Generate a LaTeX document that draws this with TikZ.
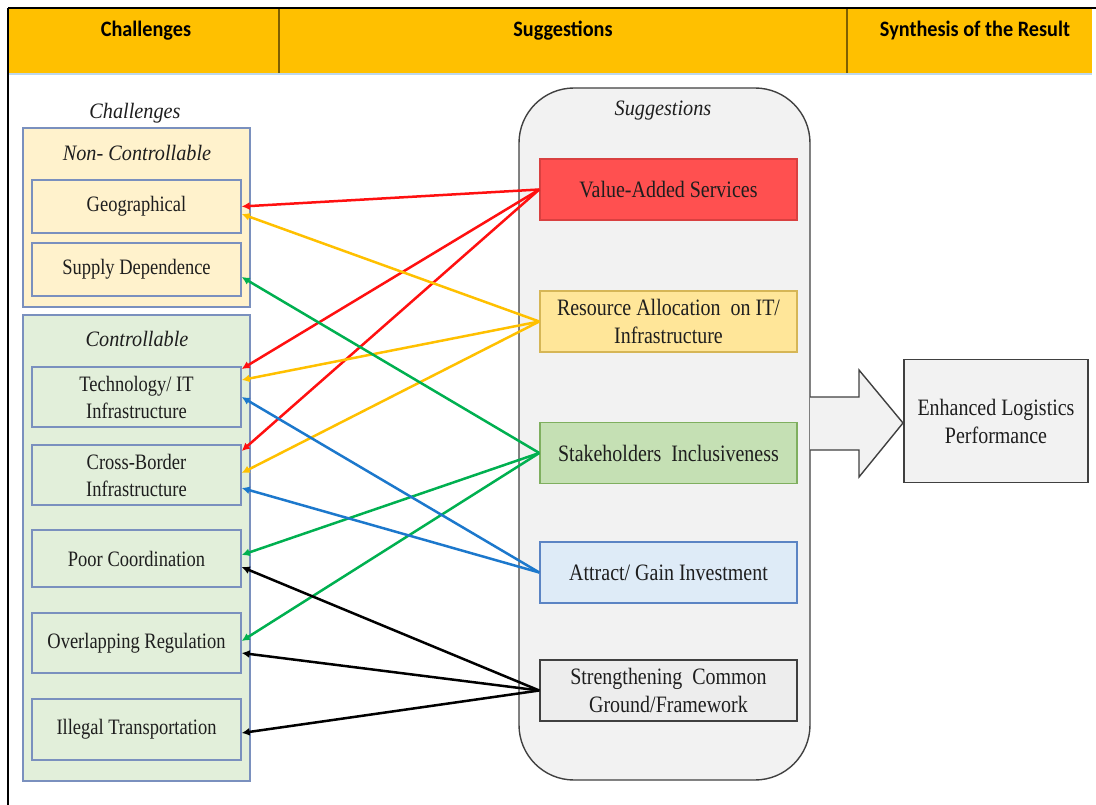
\documentclass[tikz,border=0pt]{standalone}
\usepackage{fontspec}
\setmainfont{Liberation Serif}[FakeStretch=0.84]
\newfontfamily\sgfont{Liberation Serif}[FakeStretch=0.85]
\newfontfamily\ttlfont{Liberation Serif}[FakeStretch=0.92]
\newfontfamily\hdrfont{Carlito}[FakeStretch=0.92]
\usetikzlibrary{arrows.meta}

\definecolor{hdrgold}{HTML}{FFC000}
\definecolor{hdrdiv}{HTML}{7F6000}
\definecolor{hdrline}{HTML}{BDD7EE}
\definecolor{ncfill}{HTML}{FFF2CC}
\definecolor{cfill}{HTML}{E2EFDA}
\definecolor{grpborder}{HTML}{7A90BE}
\definecolor{suggfill}{HTML}{F2F2F2}
\definecolor{darkline}{HTML}{404040}
\definecolor{vasfill}{HTML}{FF5050}
\definecolor{vasline}{HTML}{D94040}
\definecolor{resfill}{HTML}{FFE699}
\definecolor{resline}{HTML}{D6B656}
\definecolor{stkfill}{HTML}{C5E0B4}
\definecolor{stkline}{HTML}{7FAF5F}
\definecolor{attfill}{HTML}{DEEBF7}
\definecolor{attline}{HTML}{5B84C4}
\definecolor{strfill}{HTML}{EDEDED}
\definecolor{txt}{HTML}{1E1E1E}
\definecolor{lred}{HTML}{FF1010}
\definecolor{lgold}{HTML}{FFC000}
\definecolor{lgreen}{HTML}{00B050}
\definecolor{lblue}{HTML}{1C78CC}

\tikzset{
  hdrtext/.style={font=\hdrfont\bfseries\fontsize{22}{26}\selectfont, text=black, inner sep=0},
  grptitle/.style={font=\ttlfont\itshape\fontsize{22}{26}\selectfont, text=txt, inner sep=0},
  txtbox/.style={draw, line width=1.4pt, inner sep=0, align=center, text=txt},
  chbox/.style={txtbox, draw=grpborder, minimum width=209, minimum height=#1,
    font=\fontsize{22}{27}\selectfont},
  sgbox/.style={txtbox, minimum width=257, minimum height=61,
    font=\sgfont\fontsize{23.5}{28}\selectfont},
  grpbox/.style={draw=grpborder, line width=1.4pt, inner sep=0, minimum width=227},
  conn/.style={line width=2.5pt, -{Latex[length=8pt,width=8pt]}},
}

\begin{document}
\begin{tikzpicture}[x=1pt,y=-1pt]
\useasboundingbox (0,0) rectangle (1096,805);

% header band
\fill[hdrgold] (8,8) rectangle (1092,73);
\draw[hdrline, line width=2pt] (8,74) -- (1092,74);
\draw[hdrdiv, line width=1.5pt] (279,8) -- (279,73);
\draw[hdrdiv, line width=1.5pt] (847,8) -- (847,73);
\draw[black, line width=1.5pt] (8,8) -- (1096,8);
\draw[black, line width=1.5pt] (8,8) -- (8,805);

\node[hdrtext] (h1) at (146,31) {Challenges};
\node[hdrtext] (h2) at (563,31) {Suggestions};
\node[hdrtext] (h3) at (975,31) {Synthesis of the Result};

% challenges column
\node[grptitle] (chtitle) at (135,113) {Challenges};
\node[grpbox, fill=ncfill, minimum height=179] (nc) at (136.5,217.5) {};
\node[grptitle] (nctitle) at (137,153) {Non- Controllable};
\node[grpbox, fill=cfill, minimum height=466] (cc) at (136.5,548) {};
\node[grptitle] (cctitle) at (137,339) {Controllable};

\node[chbox=53, fill=ncfill] (geo) at (136.5,206.5) {Geographical};
\node[chbox=53, fill=ncfill] (sup) at (136.5,269.5) {Supply Dependence};
\node[chbox=60, fill=cfill] (tech) at (136.5,397) {Technology/ IT\\Infrastructure};
\node[chbox=60, fill=cfill] (cross) at (136.5,475) {Cross-Border\\Infrastructure};
\node[chbox=57, fill=cfill] (poor) at (136.5,558.5) {Poor Coordination};
\node[chbox=60, fill=cfill] (over) at (136.5,643) {Overlapping Regulation};
\node[chbox=61, fill=cfill] (ill) at (136.5,729.5) {Illegal Transportation};

% suggestions column
\node[draw=darkline, fill=suggfill, line width=1.4pt, rounded corners=55pt,
      minimum width=291, minimum height=692, inner sep=0] (sg) at (664.5,434) {};
\node[grptitle] (sgtitle) at (663,111) {Suggestions};

\node[sgbox, fill=vasfill, draw=vasline] (vas) at (668.5,189.5) {Value-Added Services};
\node[sgbox, fill=resfill, draw=resline] (res) at (668.5,321.5) {Resource Allocation\ \ on IT/\\Infrastructure};
\node[sgbox, fill=stkfill, draw=stkline] (stk) at (668.5,453) {Stakeholders\ \ Inclusiveness};
\node[sgbox, fill=attfill, draw=attline] (att) at (668.5,572.5) {Attract/ Gain Investment};
\node[sgbox, fill=strfill, draw=darkline] (str) at (668.5,690.5) {Strengthening\ \ Common\\Ground/Framework};

% synthesis
\filldraw[fill=suggfill, draw=darkline, line width=1.4pt]
  (810,397) -- (859,397) -- (859,370) -- (903,423) -- (859,477) -- (859,450) -- (810,450);
\node[txtbox, draw=darkline, fill=suggfill, minimum width=184, minimum height=123,
      font=\sgfont\fontsize{23.5}{28}\selectfont] (enh)
  at (996,421) {Enhanced Logistics\\Performance};

% links from suggestions to challenges
\draw[conn, lred] (vas.west) -- (geo.east);
\draw[conn, lred] (vas.west) -- ([yshift=28pt]tech.east);
\draw[conn, lred] (vas.west) -- ([yshift=24pt]cross.east);

\draw[conn, lgold] (res.west) -- ([yshift=-7.5pt]geo.east);
\draw[conn, lgold] (res.west) -- ([yshift=17pt]tech.east);
\draw[conn, lgold] (res.west) -- ([yshift=2pt]cross.east);

\draw[conn, lgreen] (stk.west) -- ([yshift=-7.5pt]sup.east);
\draw[conn, lgreen] (stk.west) -- ([yshift=3.5pt]poor.east);
\draw[conn, lgreen] (stk.west) -- ([yshift=2pt]over.east);

\draw[conn, lblue] (att.west) -- (tech.east);
\draw[conn, lblue] (att.west) -- ([yshift=-13pt]cross.east);

\draw[conn, black] (str.west) -- ([yshift=-8.5pt]poor.east);
\draw[conn, black] (str.west) -- ([yshift=-10pt]over.east);
\draw[conn, black] (str.west) -- ([yshift=-3.5pt]ill.east);
\end{tikzpicture}
\end{document}
